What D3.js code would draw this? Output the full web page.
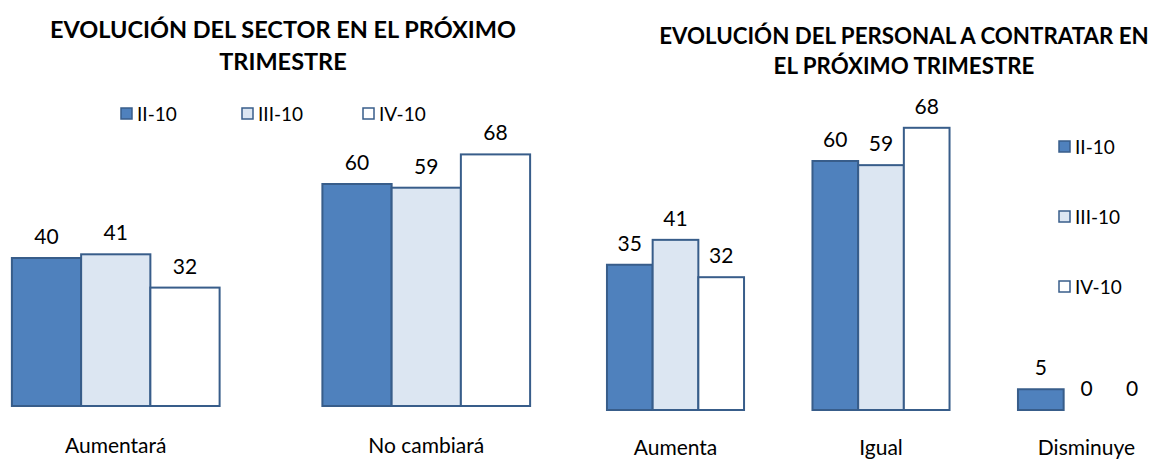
<!DOCTYPE html>
<html><head><meta charset="utf-8">
<script src="https://cdn.jsdelivr.net/npm/d3@7"></script>
<style>body{margin:0;background:#fff}svg{display:block}text{font-family:Lato, "Open Sans", sans-serif;fill:#000}</style>
</head><body>
<svg id="c" width="1151" height="461"></svg>
<script>
const series = ["II-10", "III-10", "IV-10"];
const leftTitle = ["EVOLUCIÓN DEL SECTOR EN EL PRÓXIMO", "TRIMESTRE"];
const leftCategories = ["Aumentará", "No cambiará"];
const leftII = [40, 60];
const leftIII = [41, 59];
const leftIV = [32, 68];
const rightTitle = ["EVOLUCIÓN DEL PERSONAL A CONTRATAR EN", "EL PRÓXIMO TRIMESTRE"];
const rightCategories = ["Aumenta", "Igual", "Disminuye"];
const rightII = [35, 60, 5];
const rightIII = [41, 59, 0];
const rightIV = [32, 68, 0];

const fills = ["#4F81BD", "#DCE6F2", "#FFFFFF"];
const stroke = "#385D8A";
const svg = d3.select("#c");

function chart(cfg) {
  const g = svg.append("g");
  const x0 = d3.scaleBand().domain(cfg.cats).range(cfg.xr).paddingInner(cfg.pad).paddingOuter(cfg.pad / 2);
  const x1 = d3.scaleBand().domain(series).range([0, x0.bandwidth()]);
  const y = d3.scaleLinear().domain([0, 100]).range(cfg.yr);
  const rows = cfg.cats.map((c, i) => ({ c, vals: cfg.vals.map(v => v[i]) }));
  cfg.title.forEach((t, i) => g.append("text").attr("x", cfg.tx).attr("y", cfg.ty + i * cfg.tdy)
    .attr("text-anchor", "middle").style("font-weight", "bold").style("font-size", cfg.tfs + "px").text(t));
  const grp = g.selectAll("g.grp").data(rows).join("g").attr("transform", d => `translate(${x0(d.c)},0)`);
  grp.selectAll("rect").data(d => d.vals.map((v, k) => ({ v, k })).filter(e => e.v > 0)).join("rect")
    .attr("x", e => x1(series[e.k])).attr("width", x1.bandwidth())
    .attr("y", e => y(e.v)).attr("height", e => y(0) - y(e.v))
    .attr("fill", e => fills[e.k]).attr("stroke", stroke).attr("stroke-width", 2);
  grp.selectAll("text.val").data(d => d.vals.map((v, k) => ({ v, k }))).join("text").attr("class", "val")
    .attr("x", e => x1(series[e.k]) + x1.bandwidth() / 2).attr("y", e => y(e.v) - 14)
    .attr("text-anchor", "middle").style("font-size", "21px").text(e => e.v);
  g.selectAll("text.cat").data(cfg.cats).join("text").attr("class", "cat")
    .attr("x", c => x0(c) + x0.bandwidth() / 2 + (cfg.catdx || 0)).attr("y", cfg.caty)
    .attr("text-anchor", "middle").style("font-size", "21px").text(c => c);
  const lg = g.selectAll("g.lg").data(series).join("g").attr("class", "lg")
    .attr("transform", (s, i) => `translate(${cfg.lx + i * cfg.ldx},${cfg.ly + i * cfg.ldy})`);
  lg.append("rect").attr("x", 0).attr("y", -6).attr("width", 11).attr("height", 11)
    .attr("fill", (s, i) => fills[i]).attr("stroke", stroke).attr("stroke-width", 1.5);
  lg.append("text").attr("x", 16).attr("y", 6.5).style("font-size", "19px").text(s => s);
}

chart({ cats: leftCategories, vals: [leftII, leftIII, leftIV], xr: [-39.5, 581.5], pad: 0.331, yr: [406, 36],
  title: leftTitle, tx: 283, ty: 38, tdy: 32, tfs: 23.5, caty: 453,
  lx: 121, ly: 114, ldx: 121, ldy: 0 });
chart({ cats: rightCategories, vals: [rightII, rightIII, rightIV], xr: [572.75, 1189.25], pad: 0.333, yr: [410, -5],
  title: rightTitle, tx: 904, ty: 44, tdy: 30, tfs: 22.3, caty: 455, catdx: 0,
  lx: 1059, ly: 147, ldx: 0, ldy: 70 });
</script>
</body></html>
